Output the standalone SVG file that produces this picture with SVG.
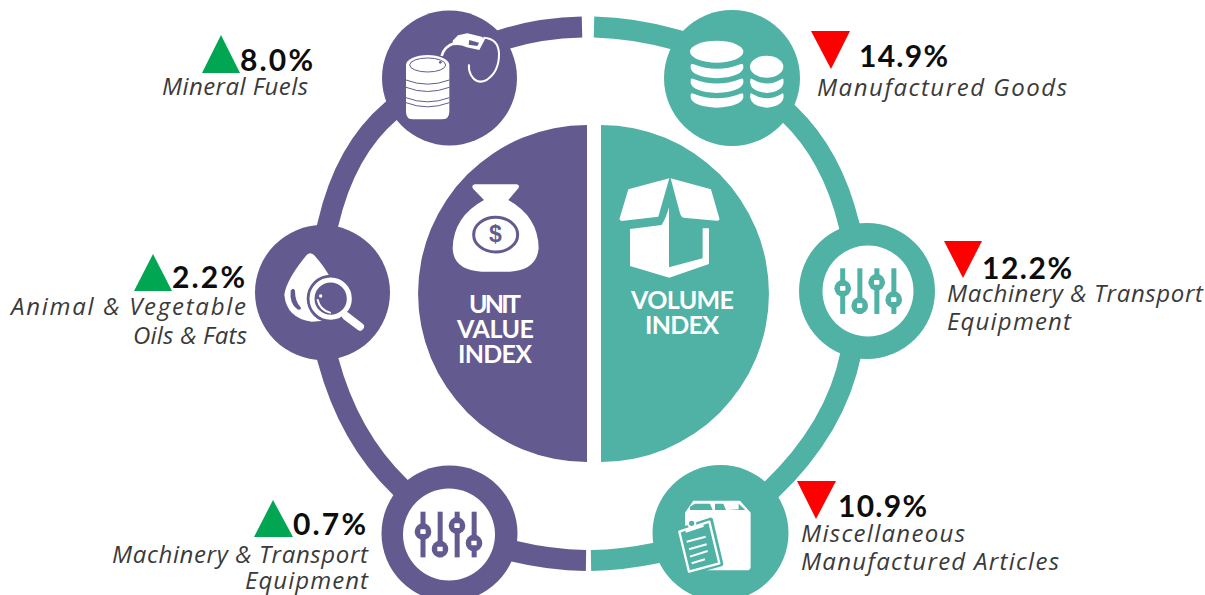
<svg xmlns="http://www.w3.org/2000/svg" xmlns:xlink="http://www.w3.org/1999/xlink" width="1205" height="595" viewBox="0 0 1205 595">
<style>
.p{fill:#635A8F}.t{fill:#50B1A5}.w{fill:#fff}
.ring{fill:none;stroke-width:21;stroke-linejoin:round}
.pct{font-family:"Lato","Liberation Sans",sans-serif;font-weight:700;font-size:30px;fill:#0d0d0d}
.lab{font-family:"Open Sans","Liberation Sans",sans-serif;font-style:italic;font-weight:400;font-size:24px;fill:#3a3a3a}
.big{font-family:"Lato","Liberation Sans",sans-serif;font-weight:700;font-size:25px;fill:#fff;text-anchor:middle}
.up{fill:#00A651}.dn{fill:#FF0000}
</style>
<defs>
<g id="sliders" fill="currentColor">
<rect x="-7.500" y="0" width="15" height="137"/><rect x="44" y="0" width="15" height="137"/><rect x="95" y="0" width="15" height="137"/><rect x="146" y="0" width="15" height="137"/>
<circle cx="0" cy="60" r="25"/><circle cx="51" cy="112" r="25"/><circle cx="102" cy="42" r="25"/><circle cx="153" cy="94" r="25"/>
<g fill="#fff"><rect x="-8" y="53" width="16" height="14" rx="2"/><rect x="43" y="105" width="16" height="14" rx="2"/><rect x="94" y="35" width="16" height="14" rx="2"/><rect x="145" y="87" width="16" height="14" rx="2"/></g>
</g>
<path id="band" d="M272 197Q272 189 281 193Q350 220 421 193Q430 189 430 197V205Q422 231 350 235Q278 231 272 205Z" fill="#fff"/>
</defs>

<g id="connectors">
<g stroke="#635A8F" class="ring">
<path d="M582 27Q540 28 505 39L480 47"/>
<path d="M410 95L391 111Q345 150 328 224L322 248"/>
<path d="M322 336L328 360Q348.900 437.900 400 487L418 504"/>
<path d="M490 545L513 551Q550 560 586 560.500"/>
</g>
<g stroke="#50B1A5" class="ring">
<path d="M594 27Q635 28 677 40L700 47"/>
<path d="M768 94L789 114Q832 155 849 224.500L855 249"/>
<path d="M857 329L851 353Q836 428 771 490L755 506"/>
<path d="M680 546L656 553Q622 560 591 560.500"/>
</g>
</g>

<g id="unit-value-index">
<path class="p" d="M587 125V462A169 168.500 0 0 1 587 125Z"/>
<g transform="translate(410 120) scale(.3333)">
<path class="w" d="M195 193H320Q331 195 325 205L295 240Q385 290 386 385Q380 450 300 455H215Q130 450 128 385Q130 290 222 240L190 207Q182 195 195 193Z"/>
<ellipse cx="257" cy="344" rx="66" ry="52" fill="none" stroke="#635A8F" stroke-width="9"/>
</g>
<text x="495.500" y="242" text-anchor="middle" style="font-family:'Liberation Sans',sans-serif;font-weight:700;font-size:23px;fill:#635A8F">$</text>
<text class="big" x="495" y="313" textLength="52">UNIT</text>
<text class="big" x="495.500" y="338" textLength="77">VALUE</text>
<text class="big" x="495" y="363" textLength="74">INDEX</text>
</g>

<g id="volume-index">
<path class="t" d="M601 125V462A168 168.500 0 0 0 601 125Z"/>
<g transform="translate(410 120) scale(.3333)" class="w">
<path d="M778 175L745 290L635 303Q625 300 630 292L655 208Z"/>
<path d="M782 175L903 208L928 295Q930 303 920 302L820 293Q812 290 810 280Z"/>
<path d="M660 327L755 315Q768 295 777 262V442L878 415V325H897V432L778 473L660 438Z"/>
</g>
<text class="big" x="682.500" y="309" textLength="103">VOLUME</text>
<text class="big" x="682" y="334" textLength="74">INDEX</text>
</g>

<g id="mineral-fuels">
<circle class="p" cx="449.500" cy="78" r="67.500"/>
<g transform="translate(370 0) scale(.3333)">
<path class="w" d="M108 195V335Q108 358 130 358H215Q238 358 238 335V195A65 30 0 0 0 108 195Z"/>
<ellipse cx="173" cy="195" rx="54" ry="21" fill="none" stroke="#635A8F" stroke-width="3"/>
<circle cx="211" cy="187" r="4" fill="#635A8F"/>
<path d="M108 240Q172 265 238 240M108 262Q172 287 238 262M108 293Q172 318 238 293M108 308Q172 333 238 308" fill="none" stroke="#635A8F" stroke-width="3"/>
<path d="M215 168Q222 140 252 130" fill="none" stroke="#fff" stroke-width="8"/>
<path class="w" d="M248 122L264 106L292 100L335 110L345 118L328 150L290 142Q270 132 250 136Z"/>
<path d="M298 120L327 128L322 138L296 134Z" fill="#635A8F"/>
<path d="M340 113Q385 115 387 160Q388 215 350 240Q320 255 303 225Q295 210 297 193" fill="none" stroke="#fff" stroke-width="6"/>
</g>
<path class="up" d="M221 35L240 73H202Z"/>
<text class="pct" x="240" y="71" textLength="73">8.0%</text>
<text class="lab" x="162" y="95" textLength="146">Mineral Fuels</text>
</g>

<g id="manufactured-goods">
<circle class="t" cx="732" cy="78" r="68"/>
<g transform="translate(600 0) scale(.3333)">
<ellipse cx="350" cy="155" rx="80" ry="33" fill="#fff"/>
<use xlink:href="#band" href="#band"/>
<use xlink:href="#band" href="#band" y="44"/>
<use xlink:href="#band" href="#band" y="88"/>
<ellipse cx="500" cy="200" rx="50" ry="33" fill="#fff"/>
<g transform="translate(500 0) scale(.633 1) translate(-350 0)">
<use xlink:href="#band" href="#band" y="44"/>
<use xlink:href="#band" href="#band" y="88"/>
</g>
</g>
<path class="dn" d="M811 31H850L831 69Z"/>
<text class="pct" x="859" y="67" textLength="89">14.9%</text>
<text class="lab" x="817" y="96" textLength="250">Manufactured Goods</text>
</g>

<g id="oils-fats">
<circle class="p" cx="322.500" cy="292.500" r="67.500"/>
<g transform="translate(250 220) scale(.3333)">
<path class="w" d="M170 105Q180 95 192 105Q225 140 250 190L250 300L185 305Q110 295 103 225Q108 180 170 105Z"/>
<path d="M122 212Q130 200 135 212Q135 245 152 262Q155 272 142 268Q118 250 122 212Z" fill="#635A8F"/>
<circle cx="242" cy="236" r="72" fill="#635A8F"/>
<circle cx="242" cy="236" r="56" fill="none" stroke="#fff" stroke-width="15"/>
<path d="M203 240Q210 270 240 278" fill="none" stroke="#fff" stroke-width="6" stroke-linecap="round"/>
<circle cx="212" cy="228" r="5" fill="#fff"/>
<path d="M288 288L330 320" stroke="#fff" stroke-width="24" stroke-linecap="round" fill="none"/>
</g>
<path class="up" d="M153 254L172 291H134Z"/>
<text class="pct" x="172" y="288" textLength="73">2.2%</text>
<text class="lab" x="11" y="315" textLength="235">Animal &amp; Vegetable</text>
<text class="lab" x="133" y="344" textLength="114">Oils &amp; Fats</text>
</g>

<g id="machinery-transport-volume">
<circle class="t" cx="867" cy="291" r="68"/>
<circle class="w" cx="868" cy="291" r="45.500"/>
<use xlink:href="#sliders" href="#sliders" color="#50B1A5" transform="translate(842.700 268.300) scale(.3333)"/>
<path class="dn" d="M944 241H982L963 278Z"/>
<text class="pct" x="982" y="279" textLength="90">12.2%</text>
<text class="lab" x="947" y="302" textLength="256">Machinery &amp; Transport</text>
<text class="lab" x="947" y="330" textLength="124">Equipment</text>
</g>

<g id="misc-manufactured">
<circle class="t" cx="720.500" cy="533" r="68"/>
<g transform="translate(640 460) scale(.3333)">
<path class="w" d="M160 122H300L332 158V320Q332 331 320 331H200L135 250V158Z"/>
<path d="M150 140L165 131H210L218 150H150ZM225 131H250L258 150H225ZM296 131L316 150H262L296 148Z" fill="#50B1A5"/>
<path d="M113 212L212 180L243 312L143 340Z" fill="#50B1A5" stroke="#50B1A5" stroke-width="14" stroke-linejoin="round"/>
<path d="M118 215L208 185L238 310L147 335Z" fill="#50B1A5" stroke="#fff" stroke-width="7" stroke-linejoin="round"/>
<circle cx="155" cy="190" r="11" fill="#50B1A5" stroke="#fff" stroke-width="6"/>
<path d="M135 208L188 192L192 200L138 218Z" fill="#fff"/>
<path d="M140 245L197 230M147 268L200 253M150 290L203 273M155 310L195 298" stroke="#fff" stroke-width="6" fill="none"/>
</g>
<path class="dn" d="M797 481H836L816 519Z"/>
<text class="pct" x="838" y="517" textLength="89">10.9%</text>
<text class="lab" x="801" y="542" textLength="164">Miscellaneous</text>
<text class="lab" x="801" y="570" textLength="258">Manufactured Articles</text>
</g>

<g id="machinery-transport-unit">
<circle class="p" cx="449.500" cy="533.500" r="68"/>
<circle class="w" cx="449" cy="534.500" r="46"/>
<use xlink:href="#sliders" href="#sliders" color="#635A8F" transform="translate(423 511.700) scale(.3333)"/>
<path class="up" d="M273 500L293 537H254Z"/>
<text class="pct" x="293" y="535" textLength="73">0.7%</text>
<text class="lab" x="112" y="563" textLength="256">Machinery &amp; Transport</text>
<text class="lab" x="245" y="589" textLength="123">Equipment</text>
</g>
</svg>
